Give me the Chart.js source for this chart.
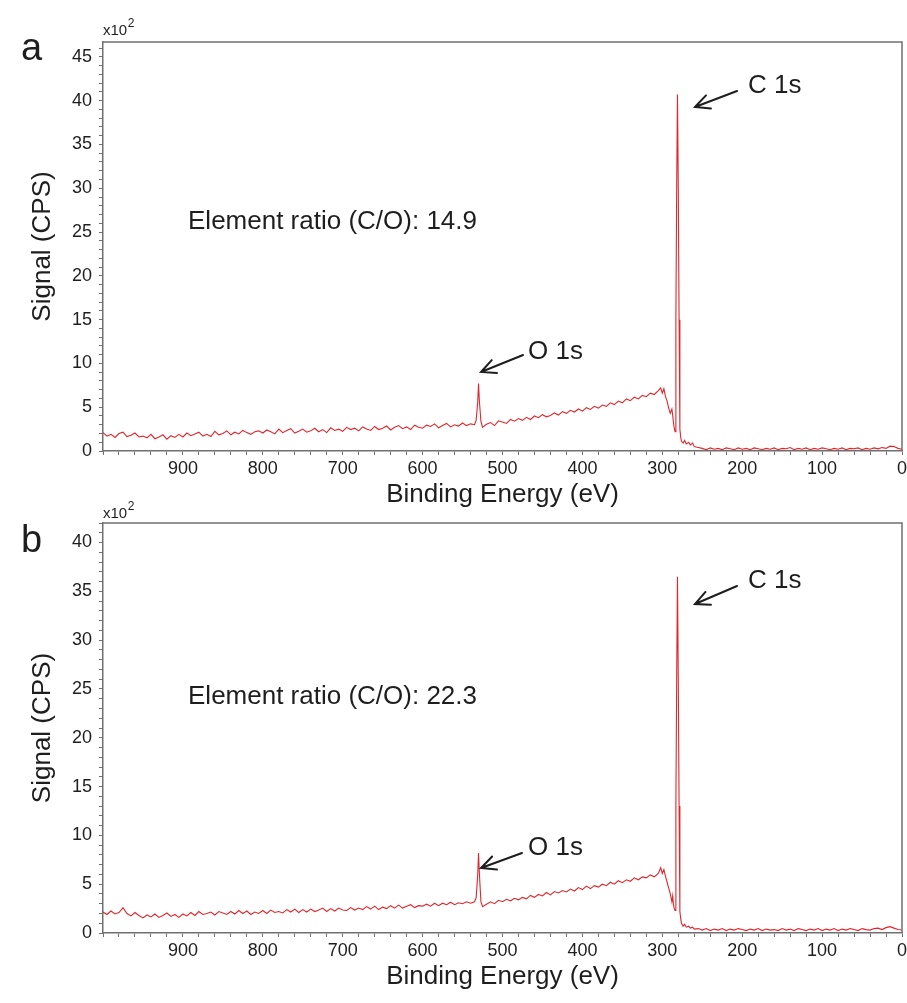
<!DOCTYPE html>
<html><head><meta charset="utf-8">
<script src="https://cdn.jsdelivr.net/npm/chart.js@4.4.1/dist/chart.umd.min.js"></script>
<style>
html,body{margin:0;padding:0;background:#fff;}
#wrap{position:relative;width:907px;height:1003px;overflow:hidden;background:#fff;}
canvas{position:absolute;left:0;}
#cA{top:0;}
#cB{top:500px;}
</style></head><body>
<div id="wrap"><canvas id="cA" width="907" height="508"></canvas><canvas id="cB" width="907" height="503"></canvas></div>
<script>
// ---- data (binding energy in eV, signal in x10^2 CPS) ----
const energy = [
1000,995,990,985,980,975,970,965,960,955,950,945,940,935,930,925,920,915,910,905,
900,895,890,885,880,875,870,865,860,855,850,845,840,835,830,825,820,815,810,805,
800,795,790,785,780,775,770,765,760,755,750,745,740,735,730,725,720,715,710,705,
700,695,690,685,680,675,670,665,660,655,650,645,640,635,630,625,620,615,610,605,
600,595,590,585,580,575,570,565,560,555,550,545,540,
535,533,531,530,529,527,525,
520,515,510,505,500,495,490,485,480,475,470,465,460,455,450,445,440,435,430,425,
420,415,410,405,400,395,390,385,380,375,370,365,360,355,350,345,340,335,330,325,
320,315,310,305,
302,300,298,296,294,292,290,288,287,286,285,284,283,282,281,280,279,278,277,276,
274,272,270,267,265,262,260,
255,250,245,240,235,230,225,220,215,210,205,200,195,190,185,180,175,170,165,160,
155,150,145,140,135,130,125,120,115,110,105,100,95,90,85,80,75,70,65,60,
55,50,45,40,35,30,25,20,15,10,5,0
];
const signalA = [
2.1,1.7,1.9,1.55,2.0,2.15,1.65,1.8,2.05,1.6,
1.7,1.5,1.9,1.4,1.6,1.85,1.35,1.75,1.55,1.9,
1.6,2.05,1.75,1.95,2.15,1.7,1.9,1.65,2.25,1.85,
2.0,2.3,1.85,2.15,1.95,2.35,2.1,1.9,2.2,2.3,
2.05,2.4,2.2,1.95,2.5,2.1,2.35,2.55,2.05,2.25,
2.5,2.15,2.3,2.6,2.2,2.45,2.1,2.65,2.35,2.5,
2.25,2.7,2.45,2.6,2.3,2.75,2.5,2.35,2.8,2.45,
2.6,2.85,2.4,2.7,2.9,2.55,2.75,2.45,2.95,2.7,
2.6,2.95,2.8,3.1,2.65,2.9,3.15,2.75,3.0,2.85,
3.2,2.9,3.1,
3.0,3.5,5.6,7.7,5.8,3.4,2.7,
3.05,3.25,2.9,3.45,3.3,3.15,3.6,3.4,3.7,3.5,
3.85,3.6,4.0,3.8,4.15,3.9,4.05,4.35,4.1,4.5,
4.3,4.65,4.45,4.8,4.55,4.95,4.75,5.1,4.9,5.25,
5.1,5.5,5.3,5.7,5.5,5.95,5.75,6.15,5.95,6.35,
6.2,6.6,6.45,6.9,
7.2,6.6,7.1,6.2,5.7,4.9,4.3,4.8,4.1,3.2,2.6,2.2,15,30,40.7,30,15,2.5,1.6,1.1,
0.9,1.2,0.8,1.0,0.7,0.9,0.5,
0.4,0.3,0.15,0.35,0.2,0.3,0.15,0.35,0.25,0.15,0.35,0.2,0.3,0.15,0.35,0.25,0.15,0.3,0.2,0.35,
0.15,0.3,0.25,0.4,0.15,0.3,0.2,0.35,0.15,0.3,0.2,0.35,0.25,0.15,0.3,0.2,0.35,0.15,0.3,0.25,
0.35,0.15,0.3,0.2,0.35,0.25,0.4,0.3,0.55,0.5,0.3,0.2
];
const signalB = [
2.15,1.9,2.25,1.95,2.1,2.6,2.0,1.75,2.1,1.8,
1.55,1.85,1.65,1.95,1.6,1.8,2.05,1.7,1.9,1.6,
1.95,1.75,2.1,1.8,2.2,1.9,2.0,2.15,1.85,2.2,
2.05,1.9,2.2,1.95,2.3,2.0,2.25,1.9,2.15,2.0,
2.3,2.0,2.35,2.1,2.2,2.05,2.4,2.15,2.45,2.1,
2.4,2.15,2.45,2.2,2.35,2.55,2.2,2.5,2.25,2.55,
2.35,2.3,2.6,2.35,2.55,2.4,2.7,2.45,2.75,2.4,
2.65,2.5,2.8,2.55,2.85,2.55,2.75,2.9,2.6,2.8,
2.75,2.95,2.75,3.05,2.8,3.05,2.9,3.15,2.9,3.1,
3.0,3.2,3.05,
3.2,3.6,6.0,8.2,6.2,3.2,2.7,
2.95,3.2,3.0,3.35,3.2,3.45,3.3,3.55,3.4,3.65,
3.5,3.85,3.65,3.95,3.8,4.15,3.9,4.25,4.1,4.35,
4.2,4.5,4.3,4.65,4.45,4.8,4.55,4.85,4.7,5.0,
4.85,5.2,5.0,5.35,5.15,5.45,5.3,5.65,5.45,5.75,
5.65,5.95,5.75,6.1,
6.7,6.1,6.5,5.8,5.2,4.6,4.0,3.2,3.8,2.9,2.5,2.3,13,26,36.5,26,13,2.2,1.5,1.0,
0.7,0.9,0.6,0.7,0.5,0.6,0.4,
0.45,0.3,0.45,0.25,0.4,0.3,0.45,0.25,0.4,0.3,0.45,0.35,0.25,0.4,0.3,0.45,0.25,0.4,0.3,0.35,
0.25,0.45,0.3,0.4,0.25,0.45,0.35,0.25,0.4,0.3,0.45,0.25,0.4,0.3,0.45,0.25,0.4,0.3,0.45,0.35,
0.25,0.45,0.35,0.3,0.45,0.5,0.35,0.55,0.65,0.5,0.35,0.3
];
const xMajorTicks = [900,800,700,600,500,400,300,200,100,0];
const yMajorTicksA = [0,5,10,15,20,25,30,35,40,45];
const yMajorTicksB = [0,5,10,15,20,25,30,35,40];
const ratioA = 'Element ratio (C/O): 14.9';
const ratioB = 'Element ratio (C/O): 22.3';

// ---- styles ----
const FONT = '"Liberation Sans", Arial, Helvetica, sans-serif';
const TEXT = '#1e1e1e';
const AXIS = '#707070';
const RED = '#e1262b';
Chart.defaults.font.family = FONT;
Chart.defaults.color = TEXT;

const decor = {
  id: 'decor',
  afterDraw(chart, args, o) {
    const {ctx, chartArea: a, scales: {x, y}} = chart;
    ctx.save();
    ctx.strokeStyle = AXIS; ctx.lineWidth = 1.5;
    ctx.beginPath(); ctx.moveTo(a.left, a.top); ctx.lineTo(a.right, a.top); ctx.lineTo(a.right, a.bottom); ctx.stroke();
    ctx.fillStyle = TEXT; ctx.textBaseline = 'alphabetic'; ctx.textAlign = 'left';
    ctx.font = '38px ' + FONT;
    ctx.fillText(o.letter, 21, o.letterY);
    ctx.font = '15px ' + FONT;
    ctx.fillText('x10', a.left, a.top - o.expGap);
    const w = ctx.measureText('x10').width;
    ctx.font = '12px ' + FONT;
    ctx.fillText('2', a.left + w + 0.5, a.top - o.expGap - 8);
    ctx.font = '26px ' + FONT;
    for (const t of o.texts) ctx.fillText(t.text, x.getPixelForValue(t.e), y.getPixelForValue(t.v));
    ctx.strokeStyle = TEXT; ctx.lineWidth = 2; ctx.lineCap = 'round';
    for (const ar of o.arrows) {
      const x1 = x.getPixelForValue(ar.e1), y1 = y.getPixelForValue(ar.v1);
      const x2 = x.getPixelForValue(ar.e2), y2 = y.getPixelForValue(ar.v2);
      const ang = Math.atan2(y2 - y1, x2 - x1), L = 16, sp = 0.45;
      ctx.beginPath();
      ctx.moveTo(x1, y1); ctx.lineTo(x2, y2);
      ctx.moveTo(x2 - L * Math.cos(ang - sp), y2 - L * Math.sin(ang - sp));
      ctx.lineTo(x2, y2);
      ctx.lineTo(x2 - L * Math.cos(ang + sp), y2 - L * Math.sin(ang + sp));
      ctx.stroke();
    }
    ctx.restore();
  }
};

function makeChart(id, signal, yMax, yMajor, pad, decorOpts) {
  const yTicks = [];
  for (let v = 0; v <= Math.floor(yMax); v++) yTicks.push({value: v});
  const xTicks = [];
  for (let v = 0; v <= 1000; v += 20) xTicks.push({value: v});
  return new Chart(document.getElementById(id), {
    type: 'line',
    data: {datasets: [{
      data: energy.map((e, i) => ({x: e, y: signal[i]})),
      borderColor: RED, borderWidth: 1.1, pointRadius: 0, tension: 0, fill: false
    }]},
    options: {
      responsive: false, animation: false, events: [],
      layout: {padding: pad},
      plugins: {legend: {display: false}, tooltip: {enabled: false}, decor: decorOpts},
      scales: {
        x: {
          type: 'linear', reverse: true, min: 0, max: 1000,
          afterBuildTicks: s => { s.ticks = xTicks.map(t => ({value: t.value})); },
          afterFit: s => { s.height = 57; },
          ticks: {autoSkip: false, maxRotation: 0, padding: 3, color: TEXT, font: {size: 18},
            callback: v => xMajorTicks.includes(v) ? String(v) : ''},
          grid: {display: true, drawOnChartArea: false, drawTicks: true, tickLength: 4, tickColor: AXIS, tickWidth: 1},
          border: {display: true, color: AXIS, width: 1.5},
          title: {display: true, text: 'Binding Energy (eV)', color: TEXT, font: {size: 26, lineHeight: 1}, padding: {top: 0, bottom: 0}}
        },
        y: {
          type: 'linear', min: 0, max: yMax,
          afterBuildTicks: s => { s.ticks = yTicks.map(t => ({value: t.value})); },
          afterFit: s => { s.width = 103; },
          ticks: {autoSkip: false, padding: 7, color: TEXT, font: {size: 18},
            callback: v => yMajor.includes(v) ? String(v) : ''},
          grid: {display: true, drawOnChartArea: false, drawTicks: true, tickLength: 4, tickColor: AXIS, tickWidth: 1},
          border: {display: true, color: AXIS, width: 1.5},
          title: {display: true, text: 'Signal (CPS)', color: TEXT, font: {size: 26, lineHeight: 1}, padding: {top: 30, bottom: 0}}
        }
      }
    },
    plugins: [decor]
  });
}

makeChart('cA', signalA, 46.7, yMajorTicksA, {top: 42, right: 5, left: 0, bottom: 0}, {
  letter: 'a', letterY: 60, expGap: 7,
  texts: [
    {text: 'C 1s', e: 192.7, v: 40.88},
    {text: 'O 1s', e: 468.1, v: 10.5},
    {text: ratioA, e: 893.6, v: 25.35}
  ],
  arrows: [
    {e1: 206.5, v1: 41.1, e2: 259.1, v2: 39.28},
    {e1: 474.3, v1: 10.96, e2: 526.9, v2: 9.02}
  ]
});
makeChart('cB', signalB, 42, yMajorTicksB, {top: 23, right: 5, left: 0, bottom: 13}, {
  letter: 'b', letterY: 52, expGap: 5,
  texts: [
    {text: 'C 1s', e: 192.7, v: 35.34},
    {text: 'O 1s', e: 468.1, v: 7.99},
    {text: ratioB, e: 893.6, v: 23.46}
  ],
  arrows: [
    {e1: 206.5, v1: 35.55, e2: 259.1, v2: 33.7},
    {e1: 475.6, v1: 8.19, e2: 526.9, v2: 6.66}
  ]
});
</script>
</body></html>
